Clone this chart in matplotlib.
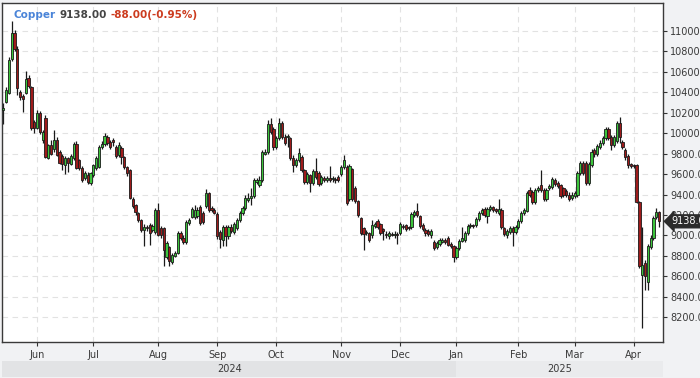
# -*- coding: utf-8 -*-
"""
Copper daily candlestick chart (LME, May 2024 - Apr 2025).
Values are read off the reference picture, one row of ten candles per line.
"""
import matplotlib
matplotlib.use("Agg")
import matplotlib.pyplot as plt
import matplotlib.transforms as mtransforms
from matplotlib.patches import Rectangle
import numpy as np
import pandas as pd

# ---- data -----------------------------------------------------------------
SYMBOL = "Copper"
START_DATE = "2024-05-15"
HOLIDAYS = ["2024-05-27", "2024-08-26", "2024-12-25", "2024-12-26", "2025-01-01"]
PREV_CLOSE = 9226.0

opens = [
    10230, 10300, 10390, 10720, 10980, 10820, 10400, 10360, 10390, 10540,
    10450, 10110, 10050, 10200, 9930, 10150, 9760, 9880, 9840, 9930,
    9820, 9780, 9690, 9760, 9700, 9760, 9890, 9740, 9660, 9560,
    9590, 9510, 9590, 9660, 9670, 9860, 9890, 9960, 9910, 9930,
    9860, 9790, 9850, 9770, 9670, 9640, 9360, 9300, 9220, 9150,
    9050, 9080, 9100, 9050, 9030, 9250, 9070, 9070, 8790, 8890,
    8740, 8800, 8830, 9020, 8980, 8940, 9120, 9180, 9180, 9190,
    9280, 9220, 9290, 9410, 9270, 9250, 9210, 9030, 8960, 9080,
    8990, 9080, 9030, 9070, 9150, 9220, 9270, 9350, 9370, 9390,
    9520, 9490, 9540, 9800, 9820, 10090, 10040, 9860, 9950, 10100,
    9960, 9960, 9950, 9760, 9690, 9740, 9770, 9640, 9520, 9590,
    9510, 9630, 9610, 9510, 9560, 9540, 9560, 9550, 9550, 9570,
    9600, 9670, 9670, 9360, 9650, 9460, 9340, 9170, 9070, 9020,
    9020, 9000, 9090, 9140, 9110, 9060, 9010, 8990, 9010, 9000,
    9010, 9020, 9090, 9100, 9080, 9080, 9200, 9240, 9190, 9100,
    9050, 9040, 9000, 8940, 8890, 8920, 8940, 8960, 8980, 8920,
    8900, 8790, 8880, 8950, 8960, 9020, 9090, 9100, 9100, 9160,
    9220, 9260, 9190, 9260, 9280, 9260, 9220, 9250, 9070, 9000,
    9030, 9070, 9030, 9080, 9140, 9220, 9240, 9440, 9420, 9330,
    9440, 9490, 9440, 9360, 9460, 9470, 9540, 9510, 9490, 9460,
    9430, 9400, 9370, 9390, 9400, 9610, 9710, 9710, 9510, 9690,
    9830, 9800, 9860, 9900, 9950, 10040, 9960, 9880, 9920, 10100,
    9910, 9830, 9780, 9700, 9690, 9690, 9330, 8610, 8730, 8550,
    8890, 8980, 9180, 9226,
]
highs = [
    10290, 10450, 10740, 11100, 11010, 10850, 10420, 10380, 10610, 10570,
    10460, 10130, 10230, 10220, 10030, 10180, 9890, 9930, 10030, 9960,
    9830, 9800, 9780, 9770, 9800, 9910, 9920, 9750, 9680, 9630,
    9620, 9620, 9700, 9780, 9880, 9920, 10000, 9980, 9930, 9950,
    9880, 9910, 9870, 9780, 9680, 9650, 9380, 9310, 9230, 9160,
    9110, 9100, 9120, 9110, 9270, 9320, 9090, 9080, 8950, 8900,
    8830, 8850, 9040, 9040, 9000, 9150, 9170, 9280, 9300, 9280,
    9300, 9240, 9450, 9420, 9290, 9270, 9230, 9050, 9100, 9100,
    9100, 9110, 9130, 9170, 9240, 9290, 9400, 9410, 9460, 9560,
    9560, 9580, 9830, 9840, 10130, 10150, 10060, 9970, 10150, 10120,
    9990, 9990, 9960, 9790, 9760, 9850, 9790, 9650, 9620, 9600,
    9650, 9760, 9630, 9590, 9580, 9580, 9680, 9580, 9570, 9590,
    9690, 9790, 9690, 9700, 9660, 9480, 9350, 9180, 9080, 9050,
    9030, 9150, 9130, 9160, 9120, 9070, 9040, 9040, 9030, 9040,
    9030, 9130, 9110, 9110, 9090, 9230, 9250, 9320, 9200, 9120,
    9070, 9060, 9060, 8960, 8950, 8980, 8980, 8980, 8990, 8940,
    8910, 8900, 8970, 9080, 9040, 9110, 9120, 9110, 9180, 9240,
    9270, 9280, 9280, 9300, 9290, 9270, 9360, 9270, 9080, 9060,
    9090, 9090, 9100, 9160, 9240, 9270, 9430, 9470, 9440, 9460,
    9480, 9640, 9460, 9460, 9500, 9570, 9560, 9530, 9500, 9470,
    9450, 9420, 9420, 9430, 9630, 9730, 9730, 9730, 9720, 9840,
    9850, 9890, 9930, 9970, 10060, 10060, 9980, 9980, 10120, 10160,
    9930, 9850, 9800, 9710, 9700, 9700, 9340, 9080, 8760, 8920,
    9000, 9190, 9270, 9240,
]
lows = [
    10090, 10290, 10380, 10700, 10800, 10370, 10320, 10210, 10380, 10440,
    10030, 10000, 10040, 9990, 9900, 9760, 9750, 9790, 9820, 9780,
    9700, 9640, 9600, 9620, 9690, 9740, 9650, 9640, 9520, 9540,
    9500, 9490, 9570, 9640, 9660, 9840, 9870, 9880, 9840, 9870,
    9760, 9770, 9700, 9650, 9580, 9360, 9270, 9200, 9130, 9030,
    8900, 9040, 8910, 9030, 9010, 8990, 8980, 8700, 8770, 8700,
    8720, 8790, 8820, 8960, 8920, 8920, 9100, 9170, 9160, 9170,
    9100, 9110, 9270, 9230, 9230, 9210, 8970, 8880, 8900, 8900,
    8970, 9020, 9010, 9050, 9130, 9200, 9250, 9330, 9300, 9370,
    9500, 9470, 9520, 9790, 9800, 9990, 9830, 9840, 9930, 9940,
    9880, 9860, 9740, 9620, 9670, 9720, 9620, 9500, 9500, 9420,
    9490, 9550, 9480, 9490, 9520, 9520, 9520, 9520, 9510, 9520,
    9580, 9650, 9300, 9340, 9340, 9320, 9180, 9000, 8860, 9000,
    8940, 8980, 9070, 9060, 9000, 8960, 8980, 8970, 8990, 8980,
    8920, 9000, 9060, 9040, 9050, 9060, 9180, 9180, 9070, 9040,
    8990, 8990, 8980, 8860, 8870, 8900, 8930, 8920, 8900, 8880,
    8740, 8770, 8860, 8940, 8940, 9000, 9070, 9070, 9080, 9140,
    9200, 9180, 9120, 9240, 9230, 9220, 9200, 9060, 8990, 8980,
    9010, 8900, 9010, 9060, 9120, 9200, 9230, 9380, 9310, 9310,
    9420, 9420, 9340, 9340, 9440, 9450, 9480, 9460, 9370, 9380,
    9380, 9340, 9350, 9370, 9380, 9590, 9590, 9490, 9490, 9670,
    9770, 9780, 9840, 9880, 9930, 9930, 9830, 9860, 9900, 9900,
    9840, 9740, 9660, 9660, 9660, 9320, 8680, 8100, 8470, 8470,
    8870, 8960, 9160, 9080,
]
closes = [
    10250, 10420, 10710, 10980, 10820, 10440, 10350, 10330, 10530, 10460,
    10050, 10050, 10200, 10010, 10010, 9770, 9880, 9800, 9930, 9790,
    9710, 9700, 9760, 9710, 9780, 9890, 9660, 9660, 9540, 9610,
    9520, 9610, 9690, 9760, 9860, 9890, 9970, 9900, 9860, 9910,
    9780, 9880, 9770, 9670, 9610, 9370, 9290, 9230, 9150, 9050,
    9080, 9070, 9020, 9090, 9250, 9000, 9000, 8860, 8930, 8750,
    8810, 8830, 9020, 8980, 8940, 9130, 9150, 9260, 9250, 9250,
    9120, 9130, 9410, 9250, 9250, 9220, 8990, 8970, 9080, 8990,
    9080, 9040, 9110, 9150, 9220, 9270, 9370, 9370, 9390, 9540,
    9540, 9540, 9820, 9820, 10090, 10010, 9860, 9950, 10100, 9960,
    9900, 9970, 9760, 9690, 9740, 9810, 9640, 9520, 9600, 9510,
    9630, 9570, 9500, 9570, 9540, 9560, 9540, 9550, 9540, 9540,
    9670, 9740, 9320, 9680, 9360, 9340, 9200, 9020, 9010, 9030,
    8960, 9100, 9110, 9080, 9020, 9040, 9000, 9020, 9000, 9010,
    9000, 9110, 9080, 9060, 9070, 9210, 9230, 9200, 9090, 9060,
    9020, 9010, 9040, 8880, 8930, 8960, 8960, 8940, 8910, 8900,
    8790, 8880, 8950, 8980, 9020, 9090, 9100, 9090, 9160, 9220,
    9250, 9200, 9260, 9280, 9250, 9240, 9260, 9080, 9010, 9040,
    9070, 9030, 9080, 9140, 9220, 9250, 9410, 9400, 9330, 9440,
    9460, 9440, 9360, 9440, 9480, 9550, 9500, 9480, 9390, 9400,
    9400, 9360, 9400, 9410, 9610, 9710, 9610, 9510, 9700, 9820,
    9800, 9870, 9900, 9950, 10040, 9950, 9880, 9960, 10100, 9960,
    9860, 9770, 9690, 9680, 9680, 9330, 8700, 8710, 8600, 8900,
    8980, 9170, 9226, 9138,
]
y_ticks = [8200, 8400, 8600, 8800, 9000, 9200, 9400, 9600, 9800,
           10000, 10200, 10400, 10600, 10800, 11000]

# ---- style ----------------------------------------------------------------
BG = "#f1f2f4"
BAND_2024 = "#e2e3e5"
BAND_2025 = "#eaebed"
UP = "#3cc43c"
DOWN = "#9e1b1b"
EDGE = "#1a1a1a"
TEXT = "#3a3a3a"

W, H = 700, 378
fig = plt.figure(figsize=(W / 100, H / 100), dpi=100, facecolor=BG)
ax_left, ax_right, ax_top, ax_bottom = 2, 663.3, 3, 341.7
ax = fig.add_axes([ax_left / W, 1 - ax_bottom / H,
                   (ax_right - ax_left) / W, (ax_bottom - ax_top) / H])
ax.set_facecolor("white")

o = np.array(opens, float)
h = np.array(highs, float)
l = np.array(lows, float)
c = np.array(closes, float)
n = len(c)
x = np.arange(n)
dates = pd.bdate_range(START_DATE, periods=n, freq="C", holidays=HOLIDAYS)

# wicks first, bodies on top
ax.vlines(x, l, h, color=EDGE, linewidth=0.9, zorder=2)
up = c >= o
body_low = np.minimum(o, c)
body_h = np.maximum(np.abs(c - o), 10)
ax.bar(x, body_h, width=0.8, bottom=body_low,
       color=np.where(up, UP, DOWN), edgecolor=EDGE, linewidth=0.6, zorder=3)

xmin, xmax = -0.45, 234.5
ax.set_xlim(xmin, xmax)
ax.set_ylim(7962, 11271)

# month ticks at first trading day of each month
month_idx = [i for i in range(1, n) if dates[i].month != dates[i - 1].month]
ax.set_xticks(month_idx)
ax.set_xticklabels([dates[i].strftime("%b") for i in month_idx])

ax.yaxis.tick_right()
ax.set_yticks(y_ticks)
ax.set_yticklabels([f"{v:.2f}" for v in y_ticks])
ax.tick_params(axis="y", direction="out", length=3, pad=2, labelsize=7,
               color="#333333", labelcolor=TEXT)
ax.tick_params(axis="x", direction="out", length=3, pad=3, labelsize=7,
               color="#333333", labelcolor=TEXT)
for s in ax.spines.values():
    s.set_color("#3a3a3a")
    s.set_linewidth(1.0)
ax.grid(True, color="#e2e2e2", linestyle=(0, (5, 4)), linewidth=0.8)
ax.set_axisbelow(True)

# year band below the month labels
jan = next(i for i in month_idx if dates[i].month == 1)
trans = mtransforms.blended_transform_factory(ax.transData, fig.transFigure)
band_y0 = 1 - 377 / H
band_h = 16 / H
ax.add_patch(Rectangle((xmin, band_y0), jan - xmin, band_h, transform=trans,
                       facecolor=BAND_2024, edgecolor="none", clip_on=False))
ax.add_patch(Rectangle((jan, band_y0), xmax - jan, band_h, transform=trans,
                       facecolor=BAND_2025, edgecolor="none", clip_on=False))
ax.text((xmin + jan) / 2, band_y0 + band_h / 2, str(dates[jan - 1].year),
        transform=trans, ha="center", va="center", fontsize=7, color=TEXT)
ax.text((jan + xmax) / 2, band_y0 + band_h / 2, str(dates[jan].year),
        transform=trans, ha="center", va="center", fontsize=7, color=TEXT)

# last price marker on the right axis
last = c[-1]
tr_right = mtransforms.blended_transform_factory(ax.transAxes, ax.transData)
ax.text(1.012, last, f"{last:.2f}", transform=tr_right, ha="left", va="center",
        fontsize=7, color="white", zorder=6, clip_on=False,
        bbox=dict(boxstyle="larrow,pad=0.15", fc="#2b2b2b", ec="#2b2b2b"))

# title: symbol, last, change
chg = last - PREV_CLOSE
parts = [
    (SYMBOL, "#4a84d8"),
    (f"{last:.2f}", "#444444"),
    (f"{chg:+.2f}({chg / PREV_CLOSE * 100:+.2f}%)", "#cc3b1e"),
]
fig.canvas.draw()
renderer = fig.canvas.get_renderer()
xpos = 13
for s, col in parts:
    t = fig.text(xpos / W, 1 - 18.5 / H, s, color=col, fontsize=7.5,
                 fontweight="bold", va="baseline", ha="left")
    xpos += t.get_window_extent(renderer=renderer).width + 4

fig.savefig("out.png", dpi=100, facecolor=fig.get_facecolor())
